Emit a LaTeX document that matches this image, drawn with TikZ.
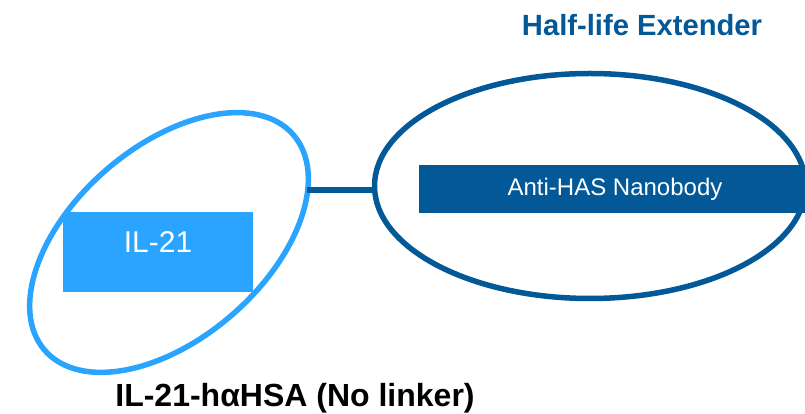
\documentclass[tikz,border=0pt]{standalone}
\usepackage{fontspec}
\setmainfont{Liberation Sans}
\usetikzlibrary{shapes.geometric,positioning}
\definecolor{ilblue}{RGB}{43,164,255}
\definecolor{hleblue}{RGB}{3,89,152}

\begin{document}
\begin{tikzpicture}[%
    x=1pt, y=1pt,               % one unit per pixel of the figure
    ]
% -------------------------------------------------
% Styles for the two domains and their labels
\tikzset{
  ringbase/.style={ellipse, draw, line width=5.5pt, inner sep=0pt},
  blockbase/.style={rectangle, inner sep=0pt, text=white},
  ilring/.style={ringbase, draw=ilblue, rotate=40.9, minimum width=329, minimum height=192},
  hlering/.style={ringbase, draw=hleblue, minimum width=431, minimum height=225},
  ilbox/.style={blockbase, fill=ilblue, minimum width=190, minimum height=80,
    font=\fontsize{30}{36}\selectfont, text depth=20pt},
  hlebox/.style={blockbase, fill=hleblue, minimum width=392, minimum height=48,
    font=\fontsize{24}{29}\selectfont},
  headtext/.style={font=\bfseries\fontsize{29.2}{35}\selectfont, text=hleblue},
  captext/.style={font=\bfseries\fontsize{32}{38}\selectfont},
  % linker between the two domains
  linker/.style={draw=hleblue, line width=5.5pt},
}
\useasboundingbox (0,0) rectangle (805,414);
% -------------------------------------------------
% Start by placing the rings
\node [ilring] (ilell) at (169,171.5) {};
\node [hlering] (hleell) at (590,228) {};
% -------------------------------------------------
% The boxes sit on top of the rings
\node [ilbox] (il21) at (158,162) {IL-21};
\node [hlebox] (nanobody) at (615,225) {Anti-HAS Nanobody};
% -------------------------------------------------
% Linker from the IL-21 ring to the extender ring
\coordinate (linkfoot) at (307,224);
\draw [linker] (linkfoot) -- (linkfoot -| hleell.west);
% -------------------------------------------------
% Titles
\node [headtext] (hletitle) at (642,389) {Half-life Extender};
\node [captext] (fusion) at (295,16) {IL-21-hαHSA (No linker)};
% -------------------------------------------------
\end{tikzpicture}
\end{document}
